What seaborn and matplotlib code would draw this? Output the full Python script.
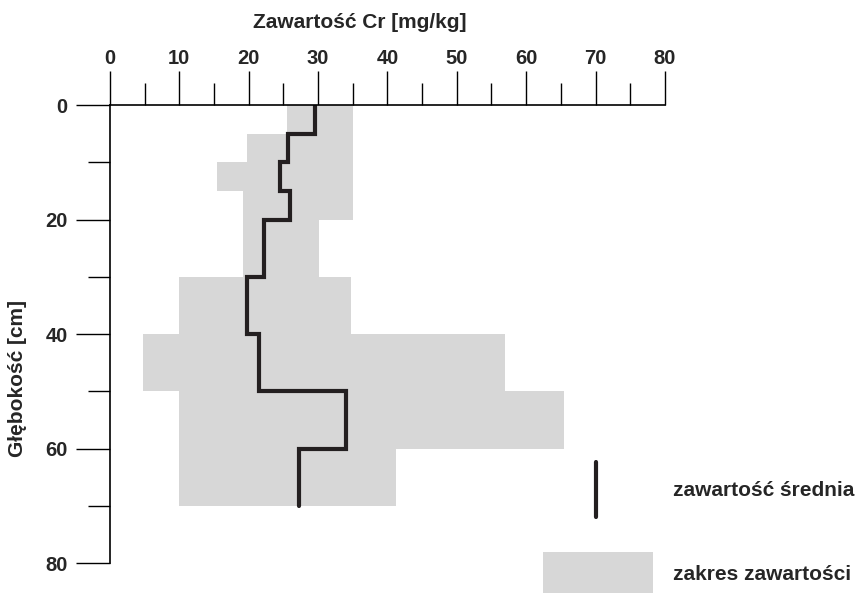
import numpy as np
import matplotlib
matplotlib.use("Agg")
import matplotlib.pyplot as plt
import seaborn as sns
from matplotlib.lines import Line2D
from matplotlib.patches import Rectangle

# depth layers [cm] and Cr content [mg/kg]
depth_top = [0, 5, 10, 15, 20, 30, 40, 50, 60]
depth_bottom = [5, 10, 15, 20, 30, 40, 50, 60, 70]
cr_min = [25.5, 19.7, 15.4, 19.2, 19.2, 10.0, 4.8, 9.9, 10.0]
cr_max = [35.0, 35.0, 35.0, 35.0, 30.1, 34.8, 57.0, 65.5, 41.2]
cr_mean = [29.5, 25.7, 24.5, 26.0, 22.2, 19.8, 21.5, 34.0, 27.2]

x_ticks = [0, 10, 20, 30, 40, 50, 60, 70, 80]
y_ticks = [0, 20, 40, 60, 80]

sns.set_style("white")
plt.rcParams['font.family'] = ['Liberation Sans', 'DejaVu Sans']
plt.rcParams['font.weight'] = 'bold'

gray = "#d7d7d7"
dark = "#231f20"
fs = 14.5

fig = plt.figure(figsize=(8.59, 5.94), dpi=100)
ax = fig.add_axes([0.128, 0.052, 0.646, 0.771])

# range of content per layer
top = np.array(depth_top)
bottom = np.array(depth_bottom)
lo = np.array(cr_min)
hi = np.array(cr_max)
ax.barh(y=top, width=hi - lo, left=lo, height=bottom - top, align="edge",
        color=gray, linewidth=0)

# mean content as a stepped profile
step_depth = np.column_stack([top, bottom]).ravel()
step_mean = np.repeat(cr_mean, 2)
sns.lineplot(x=step_mean, y=step_depth, sort=False, estimator=None, ax=ax,
             color=dark, linewidth=3.0, solid_joinstyle="miter")

ax.set_xlim(0, 80)
ax.set_ylim(80, 0)
ax.xaxis.tick_top()
ax.set_xticks(x_ticks)
ax.set_xticks(np.arange(5, 80, 10), minor=True)
ax.set_yticks(y_ticks)
ax.set_yticks(np.arange(10, 80, 20), minor=True)
ax.tick_params(which="both", top=True, left=True, bottom=False, right=False,
               labeltop=True, labelbottom=False, color="black", width=1,
               direction="out")
ax.tick_params(axis="x", which="major", length=24.5, pad=2, labelsize=fs)
ax.tick_params(axis="x", which="minor", length=16)
ax.tick_params(axis="y", which="major", length=24.5, pad=6, labelsize=fs)
ax.tick_params(axis="y", which="minor", length=16)
for lab in ax.get_xticklabels() + ax.get_yticklabels():
    lab.set_fontweight("bold")

for side in ["right", "bottom"]:
    ax.spines[side].set_visible(False)
for side in ["top", "left"]:
    ax.spines[side].set_color("black")
    ax.spines[side].set_linewidth(1.2)

ax.set_xlabel("Zawartość Cr [mg/kg]", fontsize=15, fontweight="bold")
ax.xaxis.set_label_position("top")
ax.xaxis.set_label_coords(0.45, 1.181)
ax.xaxis.label.set_va("center")
ax.set_ylabel("Głębokość [cm]", fontsize=15, fontweight="bold")
ax.yaxis.set_label_coords(-0.166, 0.404)
ax.yaxis.label.set_va("center")

# legend drawn by hand, like in the original figure
fig.add_artist(Line2D([596 / 859, 596 / 859], [1 - 462 / 594, 1 - 517 / 594],
                      color=dark, linewidth=3.0, transform=fig.transFigure))
fig.text(673 / 859, 1 - 491 / 594, "zawartość średnia", fontsize=15,
         fontweight="bold", va="center", ha="left")
fig.add_artist(Rectangle((543 / 859, 1 - 593 / 594), 110 / 859, 41 / 594,
                         color=gray, linewidth=0, transform=fig.transFigure))
fig.text(673 / 859, 1 - 575 / 594, "zakres zawartości", fontsize=15,
         fontweight="bold", va="center", ha="left")

fig.savefig("out.png", dpi=100)
